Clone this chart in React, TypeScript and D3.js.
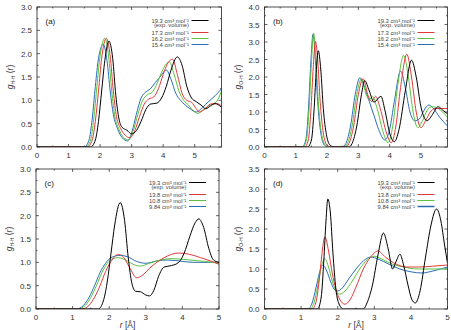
import React, { useRef, useEffect } from "react";
import * as d3 from "d3";

type Pt = [number, number];

const colors = ["#000000", "#e23a3a", "#5cc13f", "#2a6db5"];
const legendTop = ["19.3 cm³ mol⁻¹", "17.3 cm³ mol⁻¹", "16.2 cm³ mol⁻¹", "15.4 cm³ mol⁻¹"];
const legendBottom = ["19.3 cm³ mol⁻¹", "13.8 cm³ mol⁻¹", "10.8 cm³ mol⁻¹", "9.84 cm³ mol⁻¹"];

// (a) g_HH
const aBlack: Pt[] = [[0,0],[1.7,0],[1.85,0.15],[1.95,0.55],[2.05,1.2],[2.15,1.85],[2.28,2.27],[2.4,1.9],[2.5,1.1],[2.6,0.6],[2.7,0.42],[2.85,0.36],[3.0,0.28],[3.15,0.35],[3.3,0.55],[3.45,0.8],[3.6,0.92],[3.8,0.94],[3.95,1.05],[4.1,1.3],[4.25,1.65],[4.45,1.93],[4.6,1.75],[4.75,1.3],[4.9,1.05],[5.05,0.97],[5.2,0.9],[5.35,0.82],[5.5,0.88],[5.65,0.93],[5.85,0.85]];
const aRed: Pt[] = [[0,0],[1.6,0],[1.75,0.15],[1.85,0.55],[1.95,1.2],[2.05,1.9],[2.2,2.33],[2.32,1.95],[2.42,1.2],[2.52,0.65],[2.65,0.4],[2.8,0.25],[2.95,0.2],[3.1,0.35],[3.25,0.65],[3.4,0.92],[3.55,1.03],[3.7,1.07],[3.85,1.25],[4.0,1.55],[4.15,1.8],[4.3,1.88],[4.45,1.55],[4.6,1.15],[4.75,1.0],[4.9,0.96],[5.05,0.82],[5.15,0.75],[5.3,0.8],[5.5,0.92],[5.7,0.93],[5.85,0.88]];
const aGreen: Pt[] = [[0,0],[1.55,0],[1.7,0.15],[1.8,0.6],[1.9,1.3],[2.0,1.95],[2.15,2.33],[2.27,1.95],[2.37,1.2],[2.47,0.65],[2.6,0.38],[2.75,0.2],[2.9,0.15],[3.05,0.35],[3.2,0.7],[3.35,1.0],[3.5,1.12],[3.65,1.17],[3.8,1.35],[3.95,1.6],[4.1,1.78],[4.2,1.82],[4.35,1.55],[4.5,1.2],[4.65,1.0],[4.8,0.9],[4.95,0.78],[5.1,0.72],[5.3,0.82],[5.5,0.9],[5.7,0.98],[5.85,1.2]];
const aBlue: Pt[] = [[0,0],[1.5,0],[1.65,0.15],[1.75,0.6],[1.85,1.3],[1.95,1.9],[2.1,2.2],[2.22,1.85],[2.32,1.2],[2.42,0.7],[2.55,0.4],[2.7,0.2],[2.88,0.13],[3.0,0.3],[3.15,0.7],[3.3,1.05],[3.45,1.18],[3.6,1.25],[3.75,1.38],[3.9,1.5],[4.1,1.65],[4.25,1.45],[4.4,1.15],[4.55,1.0],[4.7,0.9],[4.85,0.82],[5.05,0.75],[5.25,0.85],[5.45,0.98],[5.65,1.1],[5.85,1.25]];

// (b) g_OH
const bBlack: Pt[] = [[0,0],[1.38,0],[1.5,0.2],[1.58,1.0],[1.65,2.1],[1.72,2.75],[1.8,2.2],[1.88,1.1],[1.98,0.35],[2.1,0.05],[2.25,0],[2.7,0],[2.8,0.1],[2.95,0.6],[3.1,1.5],[3.2,1.9],[3.35,1.6],[3.5,1.28],[3.72,1.45],[3.85,1.05],[4.0,0.4],[4.15,0.15],[4.3,0.5],[4.5,1.6],[4.7,2.48],[4.85,2.0],[5.0,1.15],[5.2,0.75],[5.35,0.9],[5.55,1.15],[5.7,1.05],[5.85,0.95]];
const bRed: Pt[] = [[0,0],[1.28,0],[1.4,0.2],[1.48,1.0],[1.56,2.3],[1.63,3.02],[1.7,2.5],[1.78,1.3],[1.88,0.4],[2.0,0.05],[2.15,0],[2.6,0],[2.7,0.1],[2.85,0.6],[3.0,1.5],[3.15,1.95],[3.3,1.5],[3.42,1.3],[3.55,1.45],[3.7,1.1],[3.9,0.4],[4.05,0.12],[4.2,0.6],[4.35,1.7],[4.55,2.65],[4.7,2.0],[4.85,1.0],[5.0,0.55],[5.15,0.75],[5.3,1.0],[5.45,1.1],[5.65,1.1],[5.85,1.1]];
const bGreen: Pt[] = [[0,0],[1.22,0],[1.34,0.2],[1.42,1.0],[1.5,2.4],[1.57,3.25],[1.64,2.6],[1.72,1.3],[1.82,0.4],[1.95,0.05],[2.1,0],[2.55,0],[2.65,0.1],[2.8,0.6],[2.95,1.5],[3.1,1.95],[3.25,1.5],[3.35,1.35],[3.45,1.45],[3.6,1.1],[3.8,0.4],[3.95,0.12],[4.1,0.6],[4.25,1.7],[4.45,2.62],[4.6,2.0],[4.75,1.0],[4.9,0.55],[5.05,0.75],[5.2,1.05],[5.35,1.15],[5.55,1.1],[5.85,0.85]];
const bBlue: Pt[] = [[0,0],[1.2,0],[1.32,0.2],[1.4,1.0],[1.48,2.4],[1.55,3.22],[1.62,2.6],[1.7,1.3],[1.8,0.4],[1.92,0.05],[2.05,0],[2.5,0],[2.6,0.1],[2.75,0.6],[2.9,1.5],[3.05,1.98],[3.2,1.7],[3.35,1.3],[3.5,0.9],[3.65,0.5],[3.85,0.2],[4.0,0.5],[4.15,1.3],[4.35,2.17],[4.5,1.7],[4.65,1.0],[4.8,0.75],[4.95,0.8],[5.1,1.05],[5.25,1.2],[5.4,1.1],[5.6,0.85],[5.85,0.6]];

// (c) g_HH
const cBlack: Pt[] = [[0,0],[1.7,0],[1.85,0.2],[1.95,0.6],[2.05,1.2],[2.15,1.8],[2.3,2.28],[2.42,1.9],[2.52,1.1],[2.62,0.55],[2.72,0.38],[2.85,0.37],[3.0,0.3],[3.1,0.28],[3.22,0.4],[3.35,0.7],[3.5,0.9],[3.7,0.93],[3.9,1.0],[4.05,1.2],[4.2,1.55],[4.35,1.85],[4.45,1.93],[4.58,1.75],[4.72,1.3],[4.85,1.05],[5.0,1.0]];
const cRed: Pt[] = [[0,0],[1.25,0],[1.45,0.08],[1.6,0.25],[1.75,0.5],[1.9,0.8],[2.05,1.02],[2.25,1.17],[2.4,1.1],[2.55,0.9],[2.75,0.67],[2.95,0.75],[3.1,0.87],[3.3,1.0],[3.5,1.1],[3.9,1.2],[4.2,1.17],[4.5,1.1],[4.8,1.02],[5.0,0.96]];
const cGreen: Pt[] = [[0,0],[1.15,0],[1.35,0.08],[1.5,0.25],[1.65,0.5],[1.8,0.78],[1.95,0.98],[2.1,1.08],[2.25,1.1],[2.45,1.05],[2.65,0.96],[2.85,0.92],[3.1,0.98],[3.4,1.05],[3.7,1.08],[4.2,1.05],[4.6,1.02],[5.0,0.98]];
const cBlue: Pt[] = [[0,0],[1.1,0],[1.3,0.08],[1.45,0.25],[1.6,0.5],[1.75,0.78],[1.9,0.98],[2.05,1.1],[2.3,1.15],[2.5,1.12],[2.75,1.02],[3.0,0.98],[3.3,1.03],[3.6,1.05],[4.0,1.02],[4.3,1.0],[4.7,1.0],[5.0,1.0]];

// (d) g_OH
const dBlack: Pt[] = [[0,0],[1.45,0],[1.55,0.3],[1.62,1.2],[1.68,2.2],[1.73,2.75],[1.8,2.4],[1.87,1.4],[1.95,0.5],[2.05,0.1],[2.15,0],[2.7,0],[2.8,0.15],[2.95,0.6],[3.1,1.35],[3.25,1.9],[3.38,1.5],[3.5,1.0],[3.6,1.2],[3.7,1.37],[3.8,1.1],[3.92,0.6],[4.02,0.25],[4.12,0.15],[4.25,0.45],[4.4,1.3],[4.55,2.1],[4.7,2.5],[4.82,2.2],[4.92,1.6],[5.0,1.15]];
const dRed: Pt[] = [[0,0],[1.3,0],[1.4,0.15],[1.48,0.6],[1.56,1.3],[1.65,1.8],[1.75,1.45],[1.85,0.9],[1.95,0.5],[2.05,0.25],[2.2,0.12],[2.35,0.25],[2.5,0.55],[2.7,1.0],[2.9,1.3],[3.1,1.45],[3.3,1.3],[3.6,1.12],[3.9,1.05],[4.2,1.05],[4.6,1.07],[5.0,1.1]];
const dGreen: Pt[] = [[0,0],[1.25,0],[1.35,0.15],[1.45,0.55],[1.55,1.05],[1.65,1.25],[1.75,1.05],[1.85,0.7],[1.95,0.45],[2.05,0.37],[2.2,0.45],[2.4,0.7],[2.6,1.0],[2.8,1.22],[3.0,1.32],[3.2,1.25],[3.5,1.12],[3.8,1.05],[4.2,1.0],[4.6,1.0],[5.0,1.0]];
const dBlue: Pt[] = [[0,0],[1.2,0],[1.3,0.15],[1.4,0.5],[1.5,0.9],[1.6,1.1],[1.7,0.95],[1.8,0.7],[1.9,0.5],[1.98,0.45],[2.1,0.5],[2.3,0.75],[2.5,1.0],[2.7,1.2],[2.9,1.3],[3.1,1.25],[3.4,1.12],[3.7,1.0],[4.0,0.93],[4.3,0.9],[4.6,0.95],[5.0,1.05]];

interface PanelCfg {
  id: string;
  label: string;
  sub: string;
  x0: number; x1: number; y0: number; y1: number;
  xMax: number; yMax: number;
  series: Pt[][];
  legend: string[];
  xTitle: boolean;
}

const panels: PanelCfg[] = [
  { id: "a", label: "(a)", sub: "H-H", x0: 37, x1: 221.5, y0: 7, y1: 147, xMax: 5.85, yMax: 3, series: [aBlack, aRed, aGreen, aBlue], legend: legendTop, xTitle: false },
  { id: "b", label: "(b)", sub: "O-H", x0: 264.5, x1: 447.5, y0: 7, y1: 147, xMax: 5.85, yMax: 4, series: [bBlack, bRed, bGreen, bBlue], legend: legendTop, xTitle: false },
  { id: "c", label: "(c)", sub: "H-H", x0: 36, x1: 219, y0: 169, y1: 309, xMax: 5, yMax: 3, series: [cBlack, cRed, cGreen, cBlue], legend: legendBottom, xTitle: true },
  { id: "d", label: "(d)", sub: "O-H", x0: 264.5, x1: 447.5, y0: 169, y1: 309, xMax: 5, yMax: 3.5, series: [dBlack, dRed, dGreen, dBlue], legend: legendBottom, xTitle: true },
];

const font = "Liberation Sans, Arial, sans-serif";

export default function App() {
  const svgRef = useRef<SVGSVGElement>(null);

  useEffect(() => {
    if (!svgRef.current) return;
    const svg = d3.select(svgRef.current);
    svg.selectAll("*").remove();
    svg.append("rect").attr("width", 451).attr("height", 330).attr("fill", "#fff");

    panels.forEach((p) => {
      const x = d3.scaleLinear().domain([0, p.xMax]).range([p.x0, p.x1]);
      const y = d3.scaleLinear().domain([0, p.yMax]).range([p.y1, p.y0]);
      const g = svg.append("g");

      g.append("clipPath").attr("id", `clip-${p.id}`)
        .append("rect").attr("x", p.x0).attr("y", p.y0)
        .attr("width", p.x1 - p.x0).attr("height", p.y1 - p.y0);

      // ticks (inward, mirrored)
      const xMajor = d3.range(0, Math.floor(p.xMax) + 0.001, 1);
      const xMinor = d3.range(0.5, p.xMax, 1);
      const yMajor = d3.range(0, p.yMax + 0.001, 0.5);
      const yMinor = d3.range(0.25, p.yMax, 0.5);
      const tick = (x1: number, y1: number, x2: number, y2: number) =>
        g.append("line").attr("x1", x1).attr("y1", y1).attr("x2", x2).attr("y2", y2)
          .attr("stroke", "#222").attr("stroke-width", 0.7);
      xMajor.forEach((v) => { tick(x(v), p.y1, x(v), p.y1 - 3); tick(x(v), p.y0, x(v), p.y0 + 3); });
      xMinor.forEach((v) => { tick(x(v), p.y1, x(v), p.y1 - 1.5); tick(x(v), p.y0, x(v), p.y0 + 1.5); });
      yMajor.forEach((v) => { tick(p.x0, y(v), p.x0 + 3, y(v)); tick(p.x1, y(v), p.x1 - 3, y(v)); });
      yMinor.forEach((v) => { tick(p.x0, y(v), p.x0 + 1.5, y(v)); tick(p.x1, y(v), p.x1 - 1.5, y(v)); });

      // tick labels
      xMajor.forEach((v) => {
        g.append("text").attr("x", x(v)).attr("y", p.y1 + 10.5).attr("text-anchor", "middle")
          .attr("font-size", 8).attr("font-family", font).attr("fill", "#333").text(String(v));
      });
      yMajor.forEach((v) => {
        g.append("text").attr("x", p.x0 - 5).attr("y", y(v) + 3).attr("text-anchor", "end")
          .attr("font-size", 8).attr("font-family", font).attr("fill", "#333").text(v.toFixed(1));
      });

      // curves
      const line = d3.line<Pt>().x((d) => x(d[0])).y((d) => y(d[1])).curve(d3.curveMonotoneX);
      const curves = g.append("g").attr("clip-path", `url(#clip-${p.id})`);
      [...p.series].reverse().forEach((s, i) => {
        curves.append("path").datum(s).attr("d", line).attr("fill", "none")
          .attr("stroke", colors[p.series.length - 1 - i]).attr("stroke-width", 1);
      });

      // frame
      g.append("rect").attr("x", p.x0).attr("y", p.y0).attr("width", p.x1 - p.x0).attr("height", p.y1 - p.y0)
        .attr("fill", "none").attr("stroke", "#222").attr("stroke-width", 0.8);

      // panel label
      g.append("text").attr("x", p.x0 + 8.5).attr("y", p.y0 + 17).attr("font-size", 8)
        .attr("font-family", font).attr("fill", "#222").text(p.label);

      // legend
      const lx = p.x1 - 30;
      const rows = [p.y0 + 13.5, p.y0 + 25.5, p.y0 + 31.5, p.y0 + 37.5];
      p.legend.forEach((t, i) => {
        g.append("text").attr("x", lx - 2.5).attr("y", rows[i] + 2).attr("text-anchor", "end")
          .attr("font-size", 5.8).attr("font-family", font).attr("fill", "#444").text(t);
        g.append("line").attr("x1", lx).attr("x2", lx + 17).attr("y1", rows[i]).attr("y2", rows[i])
          .attr("stroke", colors[i]).attr("stroke-width", i === 3 && p.id === "d" ? 1.5 : 1);
      });
      g.append("text").attr("x", lx - 2.5).attr("y", rows[0] + 6.6).attr("text-anchor", "end")
        .attr("font-size", 5.8).attr("font-family", font).attr("fill", "#444").text("(exp. volume)");

      // y axis title
      const cy = (p.y0 + p.y1) / 2;
      const yt = g.append("text").attr("transform", `translate(${p.x0 - 24},${cy}) rotate(-90)`)
        .attr("text-anchor", "middle").attr("font-size", 8.5).attr("font-family", font).attr("fill", "#333");
      yt.append("tspan").attr("font-style", "italic").text("g");
      yt.append("tspan").attr("font-size", 5).attr("dy", 2).text(p.sub);
      yt.append("tspan").attr("dy", -2).text(" (");
      yt.append("tspan").attr("font-style", "italic").text("r");
      yt.append("tspan").text(")");

      if (p.xTitle) {
        const xt = g.append("text").attr("x", (p.x0 + p.x1) / 2).attr("y", p.y1 + 18.5)
          .attr("text-anchor", "middle").attr("font-size", 8.5).attr("font-family", font).attr("fill", "#333");
        xt.append("tspan").attr("font-style", "italic").text("r");
        xt.append("tspan").text(" [Å]");
      }
    });
  }, []);

  return (
    <div style={{ position: "absolute", left: 0, top: 0 }}>
      <svg ref={svgRef} width={451} height={330} style={{ display: "block" }} />
    </div>
  );
}
